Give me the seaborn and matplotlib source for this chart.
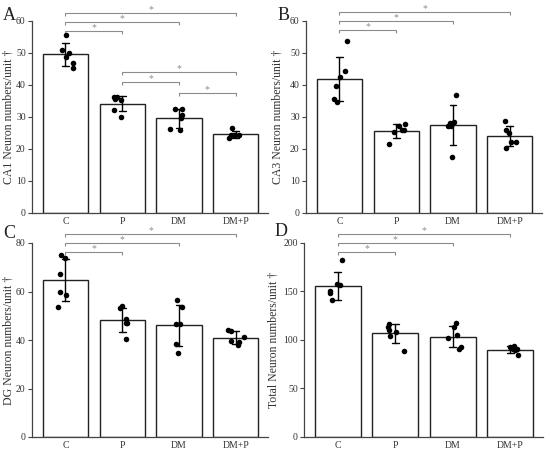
import numpy as np
import pandas as pd
import matplotlib
matplotlib.use("Agg")
import matplotlib.pyplot as plt
import seaborn as sns

# === DATA ===
GROUPS = ["C", "P", "DM", "DM+P"]

ca1_c = [55.6, 50.0, 50.9, 48.6, 46.9, 45.4]
ca1_p = [35.5, 36.1, 36.1, 35.3, 32.2, 30.1]
ca1_dm = [30.7, 32.5, 32.4, 29.6, 26.3, 26.0]
ca1_dmp = [24.5, 24.3, 26.6, 24.3, 24.3, 23.3]

ca3_c = [42.5, 44.4, 39.8, 35.7, 34.7, 53.6]
ca3_p = [27.8, 27.3, 26.0, 26.0, 25.2, 21.6]
ca3_dm = [36.8, 28.3, 28.1, 27.2, 27.2, 17.4]
ca3_dmp = [28.7, 25.9, 24.9, 22.2, 22.2, 20.4]

dg_c = [75.0, 73.7, 67.2, 60.0, 58.6, 53.5]
dg_p = [54.1, 53.1, 48.7, 47.2, 47.2, 40.3]
dg_dm = [56.4, 53.5, 46.8, 46.8, 38.3, 34.6]
dg_dmp = [44.3, 43.9, 41.1, 39.4, 39.2, 38.1]

tot_c = [182.8, 157.9, 156.6, 150.0, 147.9, 141.0]
tot_p = [116.2, 113.1, 109.7, 107.9, 103.8, 89.0]
tot_dm = [116.9, 113.4, 105.2, 101.4, 92.8, 91.0]
tot_dmp = [93.6, 92.5, 90.1, 89.8, 90.1, 83.9]

YLABELS = ["CA1 Neuron numbers/unit \u2020", "CA3 Neuron numbers/unit \u2020",
           "DG Neuron numbers/unit \u2020", "Total Neuron numbers/unit \u2020"]
YMAX = [60, 60, 80, 200]
YSTEP = [10, 10, 20, 50]
LETTERS = ["A", "B", "C", "D"]

# significance pairs (index into GROUPS)
SIG_A = [(0, 3), (0, 2), (0, 1), (1, 3), (1, 2), (2, 3)]
SIG_OTHER = [(0, 3), (0, 2), (0, 1)]


def make_df(c, p, dm, dmp):
    vals = [c, p, dm, dmp]
    return pd.DataFrame({
        "group": np.repeat(GROUPS, [len(v) for v in vals]),
        "value": np.concatenate(vals),
    })


panels = [make_df(ca1_c, ca1_p, ca1_dm, ca1_dmp),
          make_df(ca3_c, ca3_p, ca3_dm, ca3_dmp),
          make_df(dg_c, dg_p, dg_dm, dg_dmp),
          make_df(tot_c, tot_p, tot_dm, tot_dmp)]

# === STYLE ===
sns.set_style("ticks")
plt.rcParams["font.family"] = ["Liberation Serif", "DejaVu Serif"]
TXT = "#333333"
GRAY = "#8c8c8c"

W, H = 550, 451
fig = plt.figure(figsize=(W / 100, H / 100), dpi=100)

# axes boxes in pixels: left, right, top, bottom
boxes = [(32, 268, 21, 213), (306, 542, 21, 213),
         (32, 268, 243, 437), (304, 543, 243, 436.7)]
label_x = [15, 283, 15, 279]
letter_pos = [(3, 20), (278, 20), (3, 238), (275, 236)]

# bracket heights as fraction of ymax
levels_a = [1.043, 0.995, 0.948, 0.735, 0.682, 0.625]
levels_other = [1.048, 0.998, 0.952]

np.random.seed(3)
for k, df in enumerate(panels):
    l, r, t, b = boxes[k]
    ax = fig.add_axes([l / W, 1 - b / H, (r - l) / W, (b - t) / H])

    sns.barplot(data=df, x="group", y="value", order=GROUPS, errorbar="sd",
                capsize=0.12, color="white", edgecolor="#222222", linewidth=1.0,
                width=0.8, err_kws={"color": "black", "linewidth": 1.0}, ax=ax)
    sns.stripplot(data=df, x="group", y="value", order=GROUPS, color="black",
                  size=4, jitter=0.16, ax=ax, zorder=5)

    ymax = YMAX[k]
    ax.set_ylim(0, ymax)
    ax.set_yticks(np.arange(0, ymax + 1, YSTEP[k]))
    ax.set_xlim(-0.59, 3.57)
    ax.set_xlabel("")
    ax.set_ylabel(YLABELS[k], fontsize=8.5, color=TXT)
    ax.yaxis.set_label_coords((label_x[k] - l) / (r - l), 0.5)

    for s in ["top", "right"]:
        ax.spines[s].set_visible(False)
    for s in ["left", "bottom"]:
        ax.spines[s].set_color("#444444")
        ax.spines[s].set_linewidth(0.9)
    ax.tick_params(axis="y", direction="out", length=3, width=0.8,
                   colors="#444444", labelsize=7, labelcolor=TXT, pad=1.5)
    ax.tick_params(axis="x", length=0, labelsize=7, labelcolor=TXT, pad=3)

    pairs = SIG_A if k == 0 else SIG_OTHER
    levels = levels_a if k == 0 else levels_other
    h = ymax * 0.016
    for (i, j), f in zip(pairs, levels):
        y = ymax * f
        ax.plot([i, i, j, j], [y - h, y, y, y - h], color=GRAY, lw=0.8,
                clip_on=False, solid_capstyle="butt")
        ax.text((i + j) / 2, y - ymax * 0.005, "*", ha="center", va="bottom",
                fontsize=7, color=GRAY)

    lx, ly = letter_pos[k]
    fig.text(lx / W, 1 - ly / H, LETTERS[k], fontsize=13, color="#222222",
             va="baseline", ha="left")

fig.savefig("out.png", dpi=100)
